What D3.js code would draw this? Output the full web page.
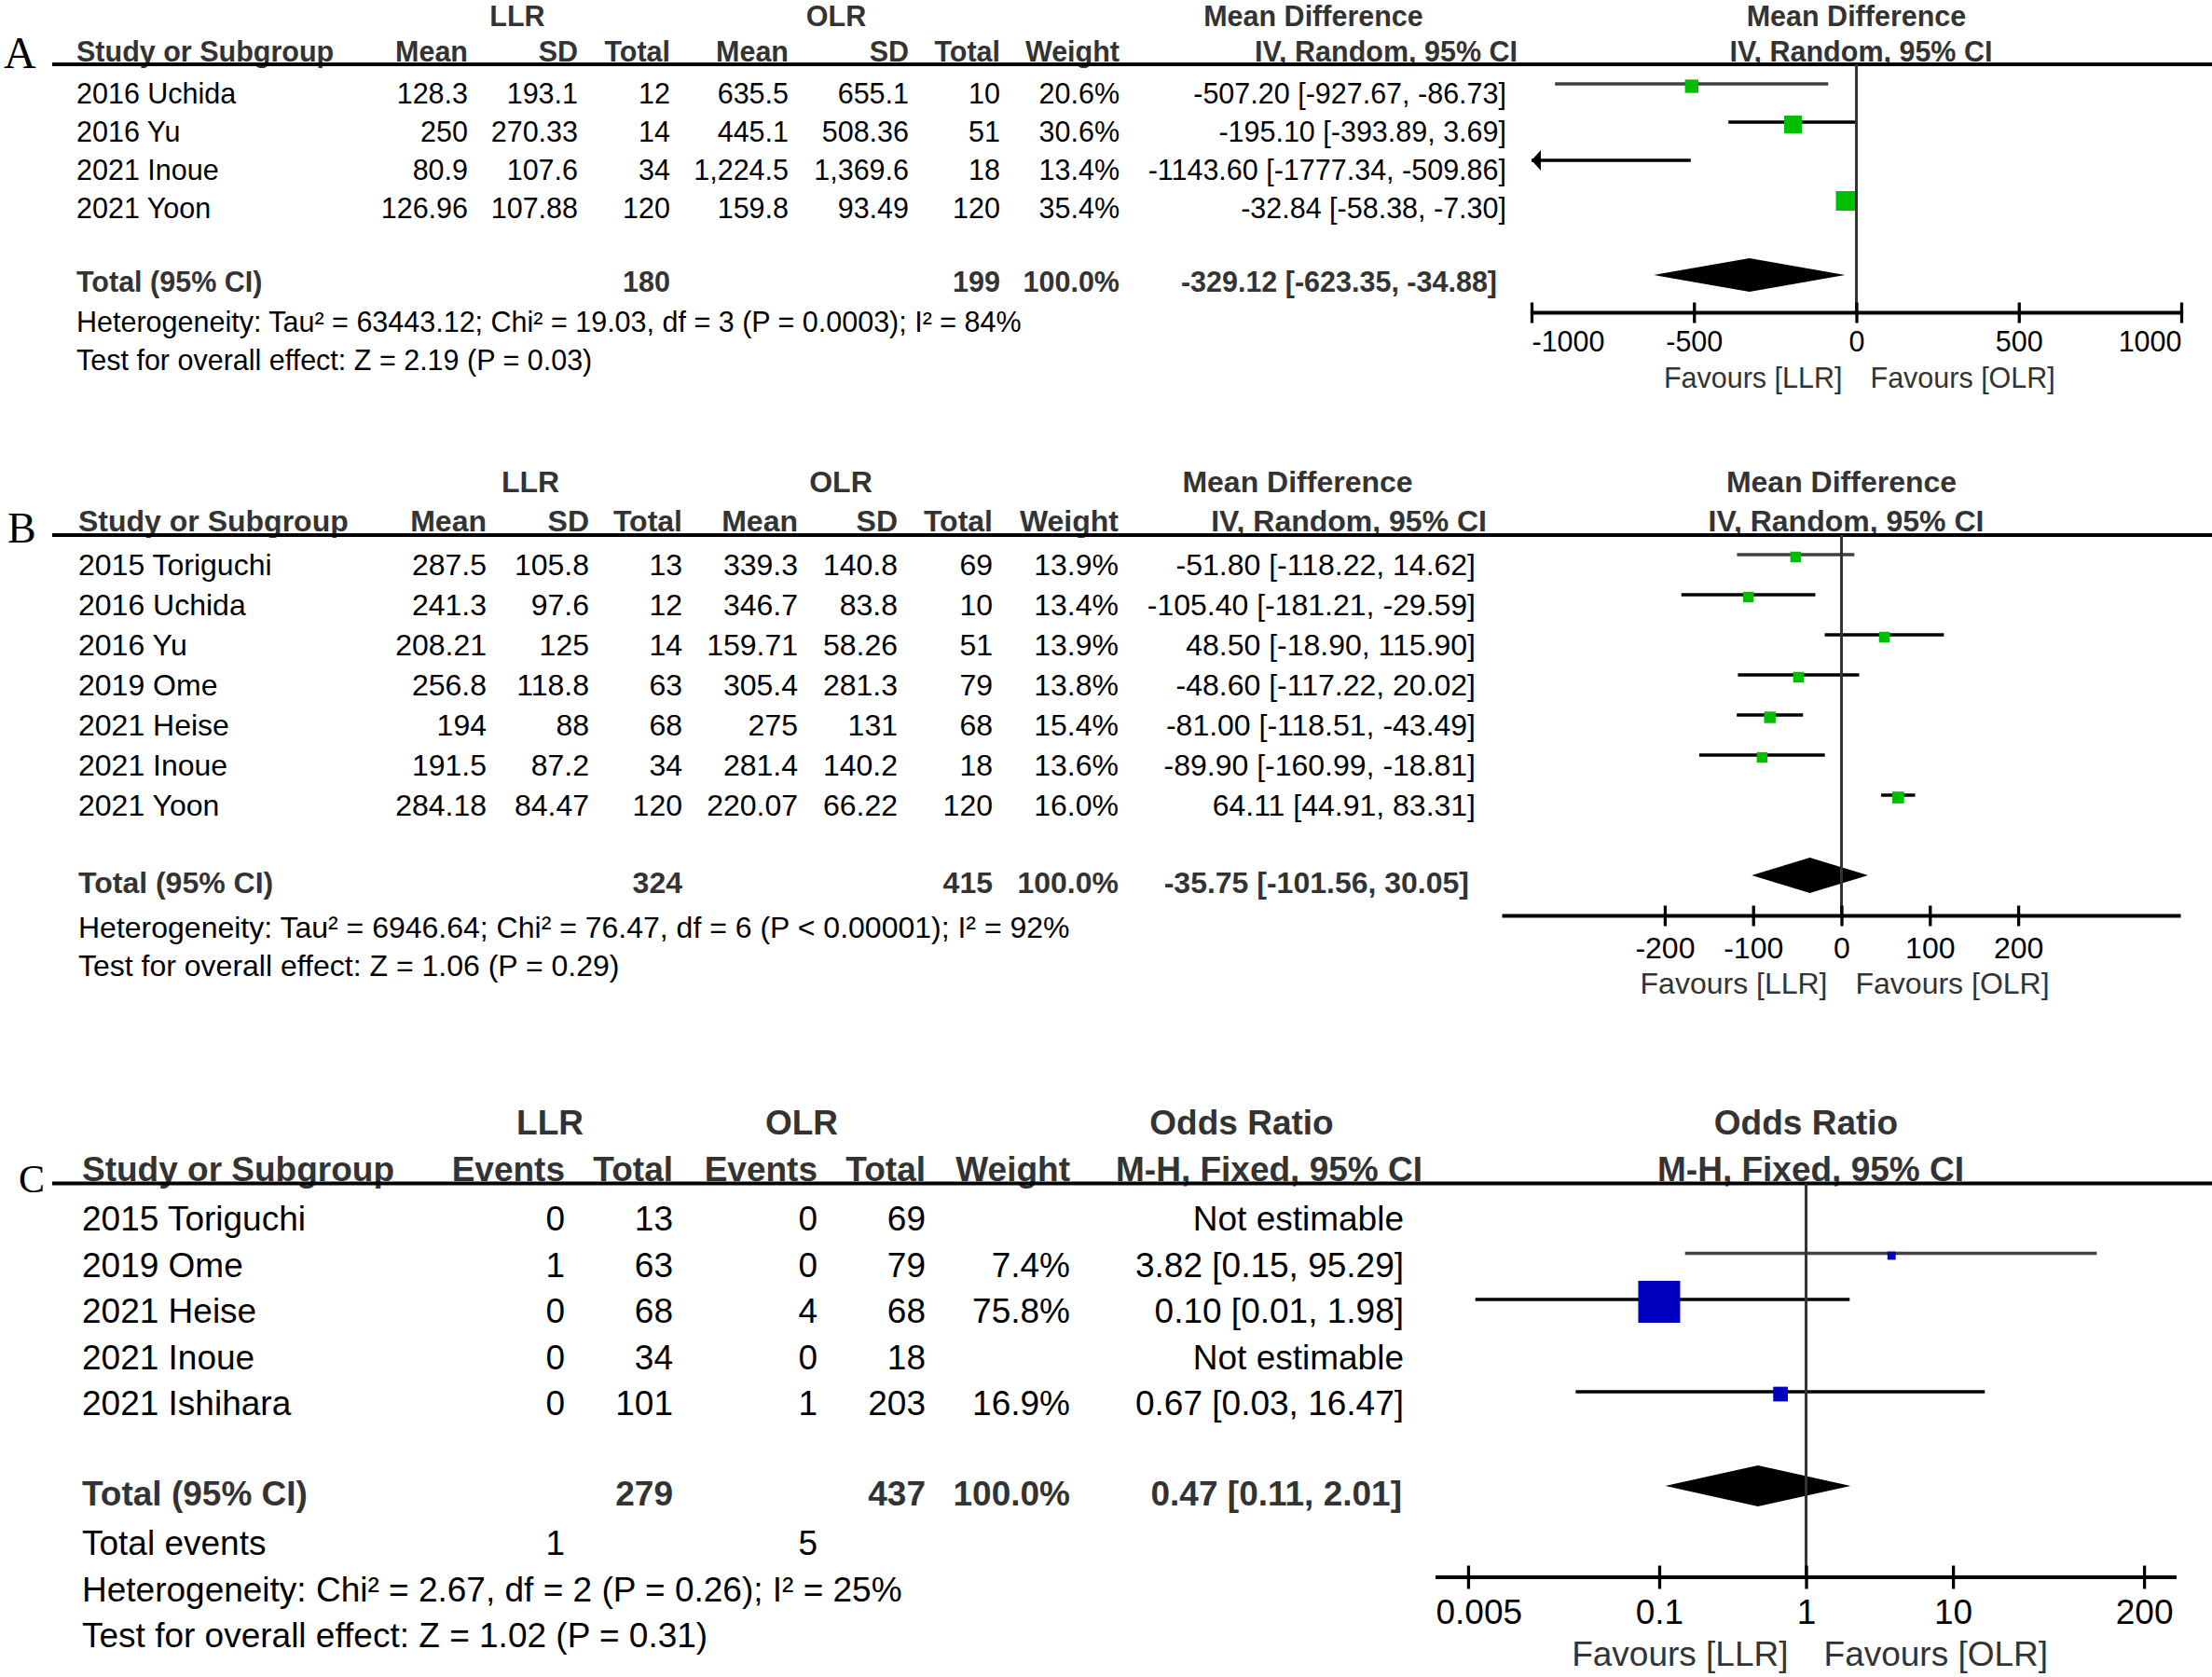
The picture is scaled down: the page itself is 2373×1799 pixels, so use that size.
<!DOCTYPE html>
<html>
<head>
<meta charset="utf-8">
<script src="https://cdnjs.cloudflare.com/ajax/libs/d3/7.8.5/d3.min.js"></script>
<style>
body { margin: 0; background: #fff; }
text { font-family: "Liberation Sans", Arial, sans-serif; }
</style>
</head>
<body>
<script>
// ================================
// PANEL A DATA (mean difference)
// ================================
var studiesA = ["2016 Uchida", "2016 Yu", "2021 Inoue", "2021 Yoon"];
var llrMeanA = ["128.3", "250", "80.9", "126.96"];
var llrSdA = ["193.1", "270.33", "107.6", "107.88"];
var llrTotalA = [12, 14, 34, 120];
var olrMeanA = ["635.5", "445.1", "1,224.5", "159.8"];
var olrSdA = ["655.1", "508.36", "1,369.6", "93.49"];
var olrTotalA = [10, 51, 18, 120];
var weightA = [20.6, 30.6, 13.4, 35.4];
var estA = [-507.20, -195.10, -1143.60, -32.84];
var lowA = [-927.67, -393.89, -1777.34, -58.38];
var highA = [-86.73, 3.69, -509.86, -7.30];
var totalsA = [180, 199];
var pooledA = [-329.12, -623.35, -34.88];
var ticksA = [-1000, -500, 0, 500, 1000];
var hetA = "Heterogeneity: Tau² = 63443.12; Chi² = 19.03, df = 3 (P = 0.0003); I² = 84%";
var testA = "Test for overall effect: Z = 2.19 (P = 0.03)";

// ================================
// PANEL B DATA (mean difference)
// ================================
var studiesB = ["2015 Toriguchi", "2016 Uchida", "2016 Yu", "2019 Ome", "2021 Heise", "2021 Inoue", "2021 Yoon"];
var llrMeanB = ["287.5", "241.3", "208.21", "256.8", "194", "191.5", "284.18"];
var llrSdB = ["105.8", "97.6", "125", "118.8", "88", "87.2", "84.47"];
var llrTotalB = [13, 12, 14, 63, 68, 34, 120];
var olrMeanB = ["339.3", "346.7", "159.71", "305.4", "275", "281.4", "220.07"];
var olrSdB = ["140.8", "83.8", "58.26", "281.3", "131", "140.2", "66.22"];
var olrTotalB = [69, 10, 51, 79, 68, 18, 120];
var weightB = [13.9, 13.4, 13.9, 13.8, 15.4, 13.6, 16.0];
var estB = [-51.80, -105.40, 48.50, -48.60, -81.00, -89.90, 64.11];
var lowB = [-118.22, -181.21, -18.90, -117.22, -118.51, -160.99, 44.91];
var highB = [14.62, -29.59, 115.90, 20.02, -43.49, -18.81, 83.31];
var totalsB = [324, 415];
var pooledB = [-35.75, -101.56, 30.05];
var ticksB = [-200, -100, 0, 100, 200];
var hetB = "Heterogeneity: Tau² = 6946.64; Chi² = 76.47, df = 6 (P < 0.00001); I² = 92%";
var testB = "Test for overall effect: Z = 1.06 (P = 0.29)";

// ================================
// PANEL C DATA (odds ratio)
// ================================
var studiesC = ["2015 Toriguchi", "2019 Ome", "2021 Heise", "2021 Inoue", "2021 Ishihara"];
var llrEventsC = [0, 1, 0, 0, 0];
var llrTotalC = [13, 63, 68, 34, 101];
var olrEventsC = [0, 0, 4, 0, 1];
var olrTotalC = [69, 79, 68, 18, 203];
var weightC = [null, 7.4, 75.8, null, 16.9];
var estC = [null, 3.82, 0.10, null, 0.67];
var lowC = [null, 0.15, 0.0056, null, 0.027];
var highC = [null, 95.29, 1.98, null, 16.47];
var totalsC = [279, 437];
var eventsC = [1, 5];
var pooledC = [0.47, 0.11, 2.01];
var ticksC = [0.005, 0.1, 1, 10, 200];
var hetC = "Heterogeneity: Chi² = 2.67, df = 2 (P = 0.26); I² = 25%";
var testC = "Test for overall effect: Z = 1.02 (P = 0.31)";

var svgWidth = 2373,
    svgHeight = 1799;

window.onload = drawFigure;


// ================================
// HELPERS
// ================================
function pct(w){
    return w == null ? "" : w.toFixed(1) + "%";
}

function ciText(est, lo, hi){
    if (est == null) return "Not estimable";
    return est.toFixed(2) + " [" + lo.toFixed(2) + ", " + hi.toFixed(2) + "]";
}

function label(g, x, y, str, anchor, size, bold, color){
    return g.append("text")
        .attr("x", x)
        .attr("y", y)
        .attr("text-anchor", anchor)
        .style("font-size", size + "px")
        .style("font-weight", bold ? "bold" : "normal")
        .style("fill", color || (bold ? "#333" : "#000"))
        .text(str);
}


// ================================
// PANEL SETUP
// ================================
function makePanels(){

    var a = {
        letter: "A", letterX: 4, letterY: 73, letterSize: 48,
        fs: 30.5, groupY: 28, headY: 66, lineY: 69, studyX: 82,
        groups: [["LLR", 555], ["OLR", 897], ["Mean Difference", 1409]],
        plotTitle: "Mean Difference",
        columns: [
            {x: 502, head: "Mean", vals: llrMeanA},
            {x: 620, head: "SD", vals: llrSdA},
            {x: 719, head: "Total", vals: llrTotalA, total: totalsA[0]},
            {x: 846, head: "Mean", vals: olrMeanA},
            {x: 975, head: "SD", vals: olrSdA},
            {x: 1073, head: "Total", vals: olrTotalA, total: totalsA[1]},
            {x: 1201, head: "Weight", vals: weightA.map(pct), total: "100.0%"}
        ],
        ciHead: "IV, Random, 95% CI", ciHeadX: 1628, ciX: 1616, ciTotalX: 1606,
        studies: studiesA, weight: weightA, est: estA, low: lowA, high: highA, pooled: pooledA,
        rowFirst: 90, rowLast: 213, textOffset: 21,
        totalY: 313, diamondY: 295, diamondH: 18,
        hetY: 356, testY: 397, het: hetA, test: testA,
        scale: d3.scaleLinear().domain([-1000, 1000]).range([1643, 2340]),
        nullValue: 0, ticks: ticksA,
        axisY: 335.5, tickLen: 11, tickLabelY: 377, favoursY: 416, favoursGap: 15,
        boxColor: "#00bf00", maxBox: 21
    };

    var b = {
        letter: "B", letterX: 8, letterY: 582, letterSize: 46,
        fs: 32, groupY: 528, headY: 570, lineY: 574, studyX: 84,
        groups: [["LLR", 569], ["OLR", 902], ["Mean Difference", 1392]],
        plotTitle: "Mean Difference",
        columns: [
            {x: 522, head: "Mean", vals: llrMeanB},
            {x: 632, head: "SD", vals: llrSdB},
            {x: 732, head: "Total", vals: llrTotalB, total: totalsB[0]},
            {x: 856, head: "Mean", vals: olrMeanB},
            {x: 963, head: "SD", vals: olrSdB},
            {x: 1065, head: "Total", vals: olrTotalB, total: totalsB[1]},
            {x: 1200, head: "Weight", vals: weightB.map(pct), total: "100.0%"}
        ],
        ciHead: "IV, Random, 95% CI", ciHeadX: 1595, ciX: 1583, ciTotalX: 1576,
        studies: studiesB, weight: weightB, est: estB, low: lowB, high: highB, pooled: pooledB,
        rowFirst: 595, rowLast: 853, textOffset: 22,
        totalY: 958, diamondY: 939, diamondH: 19,
        hetY: 1006, testY: 1047, het: hetB, test: testB,
        scale: d3.scaleLinear().domain([-384, 384]).range([1611.5, 2339.5]),
        nullValue: 0, ticks: ticksB,
        axisY: 982.5, tickLen: 11, tickLabelY: 1028, favoursY: 1066, favoursGap: 15,
        boxColor: "#00bf00", maxBox: 12.7
    };

    var c = {
        letter: "C", letterX: 20, letterY: 1279, letterSize: 42,
        fs: 37, groupY: 1217, headY: 1267, lineY: 1269.5, studyX: 88,
        groups: [["LLR", 590], ["OLR", 860], ["Odds Ratio", 1332]],
        plotTitle: "Odds Ratio",
        columns: [
            {x: 606, head: "Events", vals: llrEventsC, extra: eventsC[0]},
            {x: 722, head: "Total", vals: llrTotalC, total: totalsC[0]},
            {x: 877, head: "Events", vals: olrEventsC, extra: eventsC[1]},
            {x: 993, head: "Total", vals: olrTotalC, total: totalsC[1]},
            {x: 1148, head: "Weight", vals: weightC.map(pct), total: "100.0%"}
        ],
        ciHead: "M-H, Fixed, 95% CI", ciHeadX: 1526, ciX: 1506, ciTotalX: 1504,
        studies: studiesC, weight: weightC, est: estC, low: lowC, high: highC, pooled: pooledC,
        rowFirst: 1295, rowLast: 1493, textOffset: 25,
        totalY: 1615, diamondY: 1594, diamondH: 22,
        extraLabel: "Total events", extraY: 1668,
        hetY: 1718, testY: 1767, het: hetC, test: testC,
        scale: d3.scaleLog().domain([0.003, 333]).range([1540, 2335]),
        nullValue: 1, ticks: ticksC,
        axisY: 1692, tickLen: 12.5, tickLabelY: 1742, favoursY: 1787, favoursGap: 19,
        boxColor: "#0000c0", maxBox: 45
    };

    return [a, b, c];
}


// ================================
// DRAW FIGURE
// ================================
function drawFigure(){

    var svg = d3.select("body")
        .append("svg")
        .attr("width", svgWidth)
        .attr("height", svgHeight);

    svg.append("rect")
        .attr("width", svgWidth)
        .attr("height", svgHeight)
        .attr("fill", "#fff");

    makePanels().forEach(function(p){
        drawPanel(svg, p);
    });
}


// ================================
// ONE FOREST PANEL
// ================================
function drawPanel(svg, p){

    var g = svg.append("g");
    var fs = p.fs;
    var x = p.scale;
    var dom = x.domain();
    var rng = x.range();
    var mid = (rng[0] + rng[1]) / 2;
    var n = p.studies.length;

    var yRow = d3.scaleLinear()
        .domain([0, n - 1])
        .range([p.rowFirst, p.rowLast]);

    var boxSize = d3.scalePow()
        .exponent(0.7)
        .domain([0, d3.max(p.weight)])
        .range([0, p.maxBox]);

    // panel letter
    g.append("text")
        .attr("x", p.letterX)
        .attr("y", p.letterY)
        .style("font-family", "'Liberation Serif', 'Times New Roman', serif")
        .style("font-size", p.letterSize + "px")
        .style("fill", "#000")
        .text(p.letter);

    // group headers
    p.groups.forEach(function(d){
        label(g, d[1], p.groupY, d[0], "middle", fs, true);
    });
    label(g, mid, p.groupY, p.plotTitle, "middle", fs, true);

    // column headers
    label(g, p.studyX, p.headY, "Study or Subgroup", "start", fs, true);
    p.columns.forEach(function(c){
        label(g, c.x, p.headY, c.head, "end", fs, true);
    });
    label(g, p.ciHeadX, p.headY, p.ciHead, "end", fs, true);
    label(g, mid + 5, p.headY, p.ciHead, "middle", fs, true);

    // header rule
    g.append("line")
        .attr("x1", 56).attr("x2", svgWidth)
        .attr("y1", p.lineY).attr("y2", p.lineY)
        .attr("stroke", "#000")
        .attr("stroke-width", 4);

    // study rows (table)
    p.studies.forEach(function(s, i){
        var ty = yRow(i) + p.textOffset;
        label(g, p.studyX, ty, s, "start", fs, false);
        p.columns.forEach(function(c){
            label(g, c.x, ty, c.vals[i], "end", fs, false);
        });
        label(g, p.ciX, ty, ciText(p.est[i], p.low[i], p.high[i]), "end", fs, false);
    });

    // total row
    label(g, p.studyX, p.totalY, "Total (95% CI)", "start", fs, true);
    p.columns.forEach(function(c){
        if (c.total != null) label(g, c.x, p.totalY, c.total, "end", fs, true);
    });
    label(g, p.ciTotalX, p.totalY, ciText(p.pooled[0], p.pooled[1], p.pooled[2]), "end", fs, true);

    // total events (dichotomous only)
    if (p.extraLabel){
        label(g, p.studyX, p.extraY, p.extraLabel, "start", fs, false);
        p.columns.forEach(function(c){
            if (c.extra != null) label(g, c.x, p.extraY, c.extra, "end", fs, false);
        });
    }

    label(g, p.studyX, p.hetY, p.het, "start", fs, false);
    label(g, p.studyX, p.testY, p.test, "start", fs, false);

    // ---------- plot ----------
    var plot = g.append("g");
    var firstLine = true;

    p.studies.forEach(function(s, i){
        if (p.est[i] == null) return;
        var cy = yRow(i);
        var lo = Math.max(p.low[i], dom[0]);
        var hi = Math.min(p.high[i], dom[1]);
        var col = firstLine ? "#404040" : "#000";
        firstLine = false;

        plot.append("line")
            .attr("x1", x(lo)).attr("x2", x(hi))
            .attr("y1", cy).attr("y2", cy)
            .attr("stroke", col)
            .attr("stroke-width", 3.3);

        if (p.low[i] < dom[0]){
            var x0 = x(dom[0]);
            plot.append("path")
                .attr("d", "M" + x0 + "," + cy + "L" + (x0 + 10) + "," + (cy - 11) + "L" + (x0 + 10) + "," + (cy + 11) + "Z")
                .attr("fill", col);
        }
        if (p.high[i] > dom[1]){
            var x1 = x(dom[1]);
            plot.append("path")
                .attr("d", "M" + x1 + "," + cy + "L" + (x1 - 10) + "," + (cy - 11) + "L" + (x1 - 10) + "," + (cy + 11) + "Z")
                .attr("fill", col);
        }

        // weight box only when the estimate is on the scale
        if (p.est[i] >= dom[0] && p.est[i] <= dom[1]){
            var sz = boxSize(p.weight[i]);
            plot.append("rect")
                .attr("x", x(p.est[i]) - sz / 2)
                .attr("y", cy + 2.5 - sz / 2)
                .attr("width", sz)
                .attr("height", sz)
                .attr("fill", p.boxColor);
        }
    });

    // pooled diamond
    var dy = p.diamondY, dh = p.diamondH;
    plot.append("path")
        .attr("d", "M" + x(p.pooled[1]) + "," + dy +
                   "L" + x(p.pooled[0]) + "," + (dy - dh) +
                   "L" + x(p.pooled[2]) + "," + dy +
                   "L" + x(p.pooled[0]) + "," + (dy + dh) + "Z")
        .attr("fill", "#000");

    // line of no effect
    plot.append("line")
        .attr("x1", x(p.nullValue)).attr("x2", x(p.nullValue))
        .attr("y1", p.lineY).attr("y2", p.axisY)
        .attr("stroke", "#333")
        .attr("stroke-width", 3);

    // axis
    plot.append("line")
        .attr("x1", rng[0]).attr("x2", rng[1])
        .attr("y1", p.axisY).attr("y2", p.axisY)
        .attr("stroke", "#000")
        .attr("stroke-width", 4);

    var top = p.axisY - p.tickLen;
    var axis = d3.axisBottom(x)
        .tickValues(p.ticks)
        .tickSize(p.tickLen * 2)
        .tickFormat(function(d){ return String(d); });

    var ax = plot.append("g")
        .attr("transform", "translate(0," + top + ")")
        .call(axis);

    ax.select(".domain").remove();
    ax.selectAll(".tick line")
        .attr("stroke", "#000")
        .attr("stroke-width", 3.3);

    ax.selectAll(".tick text")
        .attr("y", p.tickLabelY - top)
        .attr("dy", null)
        .style("font-size", fs + "px")
        .style("font-family", "'Liberation Sans', Arial, sans-serif")
        .style("fill", "#000")
        .each(function(d){
            // keep end labels inside the axis line
            var w = this.getComputedTextLength();
            var cx = x(d);
            if (cx - w / 2 < rng[0]) d3.select(this).attr("x", rng[0] - cx + w / 2);
            if (cx + w / 2 > rng[1]) d3.select(this).attr("x", rng[1] - cx - w / 2);
        });

    // favours labels
    var x0v = x(p.nullValue);
    label(g, x0v - p.favoursGap, p.favoursY, "Favours [LLR]", "end", fs, false, "#333");
    label(g, x0v + p.favoursGap, p.favoursY, "Favours [OLR]", "start", fs, false, "#333");
}
</script>
</body>
</html>
